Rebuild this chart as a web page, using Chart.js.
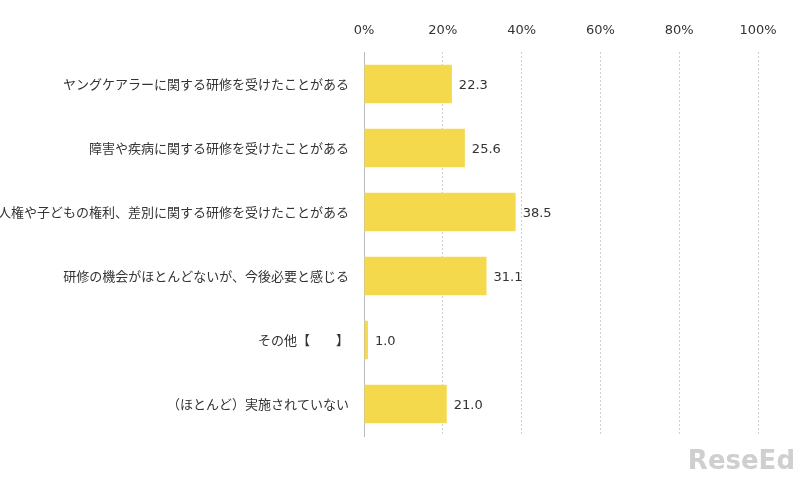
<!DOCTYPE html>
<html>
<head>
<meta charset="utf-8">
<script src="https://cdn.jsdelivr.net/npm/chart.js@4"></script>
<style>
  body { margin: 0; background: #fff; }
  #wrap { width: 805px; height: 479px; position: relative; }
  #mark { position: absolute; right: 10px; bottom: 4px; font: bold 26px "DejaVu Sans"; color: #cfcfcf; }
</style>
</head>
<body>
<div id="wrap"><canvas id="chart"></canvas><div id="mark">ReseEd</div></div>
<script>
// 項目と値
const categories = [
    'ヤングケアラーに関する研修を受けたことがある',
    '障害や疾病に関する研修を受けたことがある',
    '人権や子どもの権利、差別に関する研修を受けたことがある',
    '研修の機会がほとんどないが、今後必要と感じる',
    'その他【　　】',
    '（ほとんど）実施されていない'
];
const values = [22.3, 25.6, 38.5, 31.1, 1.0, 21.0];
const tickValues = [0, 20, 40, 60, 80, 100];

const font = 'Noto Sans CJK JP';
const numFont = 'DejaVu Sans';

// 値ラベル
const valueLabels = {
    id: 'valueLabels',
    afterDatasetsDraw(chart) {
        const ctx = chart.ctx;
        const meta = chart.getDatasetMeta(0);
        ctx.save();
        ctx.font = '13px "' + numFont + '"';
        ctx.fillStyle = '#333';
        ctx.textBaseline = 'middle';
        meta.data.forEach((bar, i) => {
            ctx.fillText(values[i].toFixed(1), bar.x + 7, bar.y + 2);
        });
        ctx.restore();
    }
};

new Chart(document.getElementById('chart'), {
    type: 'bar',
    data: {
        labels: categories,
        datasets: [{
            data: values,
            backgroundColor: '#F5D94C',
            barPercentage: 0.6,
            categoryPercentage: 1
        }]
    },
    options: {
        indexAxis: 'y',
        responsive: true,
        maintainAspectRatio: false,
        animation: false,
        layout: { padding: { top: 0, right: 47, bottom: 43, left: 0 } },
        plugins: { legend: { display: false }, tooltip: { enabled: false } },
        scales: {
            x: {
                position: 'top',
                min: 0, max: 100,
                afterBuildTicks: axis => { axis.ticks = tickValues.map(v => ({ value: v })); },
                afterFit: axis => { axis.height = 52; },
                ticks: { color: '#333', font: { family: numFont, size: 13 }, padding: 14, callback: v => v + '%' },
                grid: { color: '#d0d0d0', drawTicks: false },
                border: { display: false, dash: [2, 2] }
            },
            y: {
                afterFit: axis => { axis.width = 364; },
                ticks: { color: '#333', font: { family: font, size: 13 }, padding: 7 },
                grid: { display: false },
                border: { color: '#bbb' }
            }
        }
    },
    plugins: [valueLabels]
});
</script>
</body>
</html>
